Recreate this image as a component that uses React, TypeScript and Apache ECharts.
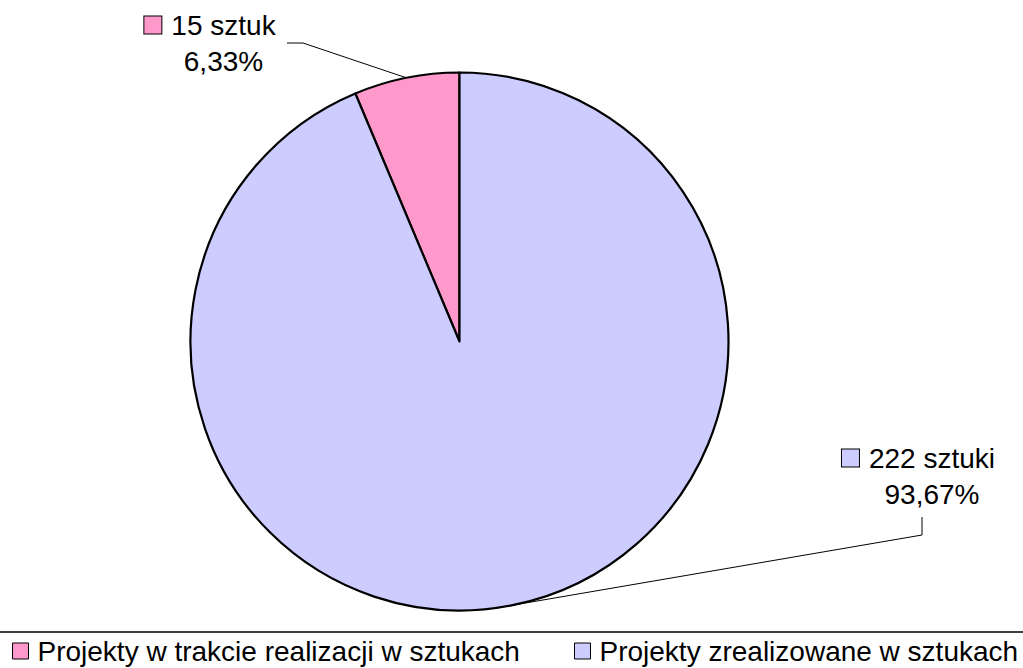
import React, { useEffect, useRef } from 'react';
import * as echarts from 'echarts';

const categories = ['Projekty w trakcie realizacji w sztukach', 'Projekty zrealizowane w sztukach'];
const values = [15, 222];
const units = ['sztuk', 'sztuki'];
const colors = ['#FF99CC', '#CCCCFF'];

const FONT = '"Liberation Sans", Arial, sans-serif';

export default function App() {
  const ref = useRef<HTMLDivElement>(null);
  useEffect(() => {
    if (!ref.current) return;
    const chart = echarts.init(ref.current, null, { renderer: 'svg' });
    const total = values.reduce((a, b) => a + b, 0);
    const pct = (v: number) => ((v / total) * 100).toFixed(2).replace('.', ',') + '%';

    // label anchor positions (layout only)
    const labelPos = [
      { x: 210, y: 43, bend: [303, 43], end: [287, 43] },
      { x: 918.5, y: 476, bend: [922, 535], end: [922, 517] },
    ];
    const center = [459.5, 341.5];
    const radius = 269;

    chart.setOption({
      animation: false,
      backgroundColor: '#fff',
      graphic: [
        {
          type: 'line',
          shape: { x1: 0, y1: 632, x2: 1023, y2: 632 },
          style: { stroke: '#000', lineWidth: 1.5 },
        },
      ],
      legend: categories.map((c, i) => ({
        data: [c],
        left: i === 0 ? 12 : 574,
        top: 637,
        padding: 0,
        itemWidth: 16,
        itemHeight: 16,
        icon: 'rect',
        selectedMode: false,
        itemStyle: { borderColor: '#000', borderWidth: 1 },
        textStyle: { fontSize: 28, fontFamily: FONT, color: '#000', padding: [0, 0, 0, 4] },
      })),
      series: [
        {
          type: 'pie',
          center,
          radius,
          startAngle: 90,
          clockwise: false,
          data: categories.map((c, i) => ({ name: c, value: values[i], itemStyle: { color: colors[i] } })),
          itemStyle: { borderColor: '#000', borderWidth: 2.2 },
          emphasis: { disabled: true },
          label: {
            show: true,
            position: 'outside',
            fontSize: 28,
            fontFamily: FONT,
            color: '#000',
            lineHeight: 36,
            align: 'center',
            formatter: (p: any) =>
              `{sq${p.dataIndex}|}{gap|}${values[p.dataIndex]} ${units[p.dataIndex]}\n{pct|${pct(values[p.dataIndex])}}`,
            rich: {
              sq0: { width: 17, height: 17, backgroundColor: colors[0], borderColor: '#000', borderWidth: 1 },
              sq1: { width: 17, height: 17, backgroundColor: colors[1], borderColor: '#000', borderWidth: 1 },
              gap: { width: 10 },
              pct: { fontSize: 28, fontFamily: FONT, color: '#000', lineHeight: 36, padding: [0, 0, 0, 27] },
            },
          },
          labelLine: { show: true, lineStyle: { color: '#000', width: 1 } },
          labelLayout: (p: any) => {
            const lp = labelPos[p.dataIndex];
            let start = p.labelLinePoints && p.labelLinePoints[0];
            if (!start) {
              let acc = 0;
              for (let k = 0; k < p.dataIndex; k++) acc += values[k];
              const mid = ((acc + values[p.dataIndex] / 2) / total) * 2 * Math.PI + Math.PI / 2;
              start = [center[0] + radius * Math.cos(mid), center[1] - radius * Math.sin(mid)];
            }
            return {
              x: lp.x,
              y: lp.y,
              align: 'center',
              verticalAlign: 'middle',
              labelLinePoints: [start, lp.bend, lp.end],
            };
          },
        },
      ],
    });
    return () => chart.dispose();
  }, []);
  return (
    <div
      ref={ref}
      style={{ position: 'fixed', left: 0, top: 0, width: 1023, height: 668 }}
    />
  );
}
